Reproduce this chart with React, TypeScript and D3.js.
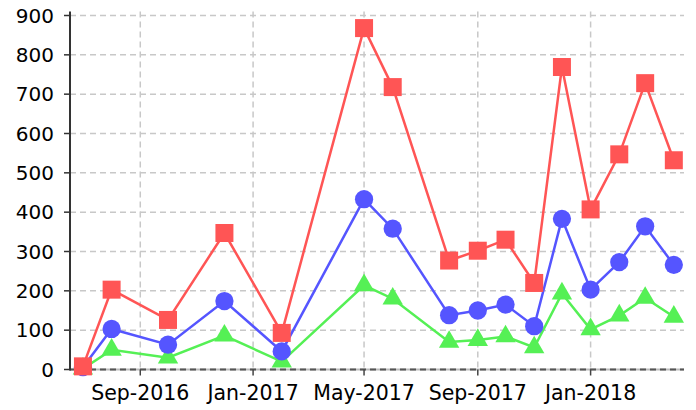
import React from "react";
import * as d3 from "d3";

// monthly data points
const dates = [
  "2016-07-01", "2016-08-01", "2016-10-01", "2016-12-01", "2017-02-01",
  "2017-05-01", "2017-06-01", "2017-08-01", "2017-09-01", "2017-10-01",
  "2017-11-01", "2017-12-01", "2018-01-01", "2018-02-01", "2018-03-01",
  "2018-04-01",
];
const redValues = [8, 203, 126, 347, 93, 868, 718, 277, 302, 330, 220, 769, 407, 547, 728, 532];
const blueValues = [6, 103, 63, 174, 46, 433, 358, 138, 150, 165, 110, 383, 203, 273, 364, 266];
const greenValues = [2, 50, 30, 86, 20, 214, 180, 70, 75, 84, 56, 193, 102, 137, 182, 134];

const yTicks = [0, 100, 200, 300, 400, 500, 600, 700, 800, 900];
const xTickDates = ["2016-09-01", "2017-01-01", "2017-05-01", "2017-09-01", "2018-01-01"];
const xTickLabels = ["Sep-2016", "Jan-2017", "May-2017", "Sep-2017", "Jan-2018"];
const xDomain = ["2016-06-17", "2018-04-12"];

const width = 696;
const height = 410;
const margin = { top: 15.5, right: 12, bottom: 40.5, left: 70 };
const font = "DejaVu Sans, sans-serif";

const parse = d3.utcParse("%Y-%m-%d");

const x = d3
  .scaleUtc()
  .domain(xDomain.map((d) => parse(d) as Date))
  .range([margin.left, width - margin.right]);

const y = d3
  .scaleLinear()
  .domain([0, 900])
  .range([height - margin.bottom, margin.top]);

// drawn bottom to top: green, blue, red
const series = [
  { name: "green", values: greenValues, color: "#55f055", symbol: d3.symbolTriangle, size: 180 },
  { name: "blue", values: blueValues, color: "#5555ff", symbol: d3.symbolCircle, size: 262 },
  { name: "red", values: redValues, color: "#ff5555", symbol: d3.symbolSquare, size: 324 },
];

export default function App() {
  const line = d3
    .line<number>()
    .x((_, i) => x(parse(dates[i]) as Date))
    .y((v) => y(v));

  const x0 = margin.left;
  const x1 = width - margin.right;
  const yBase = y(0);

  return (
    <svg
      width={width}
      height={height}
      style={{ position: "absolute", left: 0, top: 0, background: "#fff" }}
    >
      {/* horizontal grid */}
      {yTicks.map((t) =>
        t === 0 ? null : (
          <line
            key={"gy" + t}
            x1={x0}
            x2={x1}
            y1={y(t)}
            y2={y(t)}
            stroke="#c8c8c8"
            strokeWidth={1.5}
            strokeDasharray="6,4"
          />
        )
      )}
      {/* vertical grid */}
      {xTickDates.map((d) => {
        const px = x(parse(d) as Date);
        return (
          <line
            key={"gx" + d}
            x1={px}
            x2={px}
            y1={margin.top - 4}
            y2={yBase}
            stroke="#c8c8c8"
            strokeWidth={1.5}
            strokeDasharray="6,4"
          />
        );
      })}

      {/* bottom axis */}
      <line x1={x0} x2={x1} y1={yBase} y2={yBase} stroke="#bbbbbb" strokeWidth={2} />
      <line x1={x0} x2={x1} y1={yBase} y2={yBase} stroke="#555" strokeWidth={2} strokeDasharray="6,4" />
      {xTickDates.map((d, i) => {
        const px = x(parse(d) as Date);
        return (
          <g key={"xt" + d}>
            <line x1={px} x2={px} y1={yBase} y2={yBase + 6} stroke="#444" strokeWidth={1.5} />
            <text x={px} y={400} textAnchor="middle" fontFamily={font} fontSize={20.5} fill="#000">
              {xTickLabels[i]}
            </text>
          </g>
        );
      })}

      {/* left axis */}
      <line x1={x0} x2={x0} y1={margin.top - 4} y2={yBase + 1} stroke="#333" strokeWidth={2} />
      {yTicks.map((t) => (
        <g key={"yt" + t}>
          <line x1={x0 - 6} x2={x0} y1={y(t)} y2={y(t)} stroke="#333" strokeWidth={1.5} />
          <text
            x={54}
            y={y(t)}
            dy="0.36em"
            textAnchor="end"
            fontFamily={font}
            fontSize={20}
            fill="#000"
          >
            {t}
          </text>
        </g>
      ))}

      {/* lines first, markers on top */}
      {series.map((s) => (
        <path
          key={"l" + s.name}
          d={line(s.values) || ""}
          fill="none"
          stroke={s.color}
          strokeWidth={2.5}
        />
      ))}
      {series.map((s) => (
        <g key={"m" + s.name}>
          {s.values.map((v, i) => (
            <path
              key={i}
              d={d3.symbol(s.symbol, s.size)() || ""}
              transform={`translate(${x(parse(dates[i]) as Date)},${y(v)})`}
              fill={s.color}
            />
          ))}
        </g>
      ))}
    </svg>
  );
}
